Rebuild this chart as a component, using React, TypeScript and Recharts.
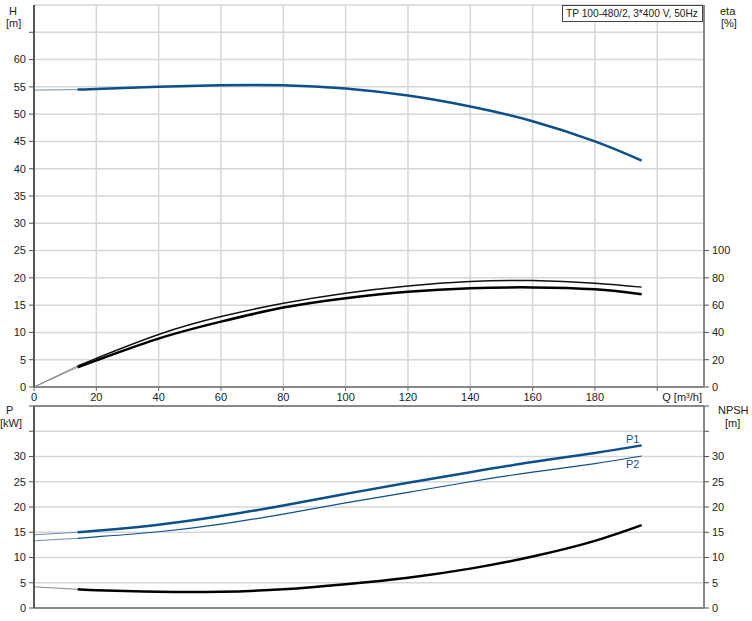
import React from "react";
import {
  ComposedChart,
  Line,
  XAxis,
  YAxis,
  CartesianGrid,
  ReferenceLine,
} from "recharts";

// flow points Q [m³/h]
const flow = [0, 14, 20, 40, 60, 80, 100, 120, 140, 160, 180, 195];
// head H [m]
const head = [54.4, 54.5, 54.6, 55.0, 55.3, 55.3, 54.7, 53.4, 51.4, 48.7, 45.0, 41.5];
// efficiency curves [%]
const etaUpper = [0, 15.5, 21.0, 38.5, 51.6, 61.4, 68.8, 74.1, 77.3, 78.0, 76.1, 73.2];
const etaLower = [0, 14.5, 19.5, 35.5, 47.9, 58.2, 65.1, 69.8, 72.4, 73.0, 71.6, 68.0];
// power [kW]
const powerP1 = [14.5, 15.0, 15.3, 16.5, 18.2, 20.3, 22.6, 24.8, 26.9, 28.9, 30.7, 32.2];
const powerP2 = [13.3, 13.8, 14.1, 15.1, 16.6, 18.6, 20.8, 22.9, 25.0, 26.9, 28.6, 30.1];
// NPSH [m]
const npsh = [4.2, 3.7, 3.5, 3.2, 3.2, 3.7, 4.7, 6.0, 7.8, 10.2, 13.3, 16.4];

const qTicks = [0, 20, 40, 60, 80, 100, 120, 140, 160, 180, 200];
const hTicks = [0, 5, 10, 15, 20, 25, 30, 35, 40, 45, 50, 55, 60, 65];
const etaTicks = [0, 20, 40, 60, 80, 100];
const pTicks = [0, 5, 10, 15, 20, 25, 30, 35, 40];

const thin = (arr: number[], i: number) => (i <= 1 ? arr[i] : null);
const thick = (arr: number[], i: number) => (i >= 1 ? arr[i] : null);

const rows = flow.map((q, i) => ({
  q,
  hThin: thin(head, i),
  h: thick(head, i),
  euThin: thin(etaUpper, i),
  eu: thick(etaUpper, i),
  elThin: thin(etaLower, i),
  el: thick(etaLower, i),
  p1Thin: thin(powerP1, i),
  p1: thick(powerP1, i),
  p2Thin: thin(powerP2, i),
  p2: thick(powerP2, i),
  nThin: thin(npsh, i),
  n: thick(npsh, i),
}));

const FONT = "'Liberation Sans', Arial, sans-serif";
const tickStyle = { fontSize: 11, fill: "#222", fontFamily: FONT };
const BLUE = "#0d4f8b";
const GRID = "#d6d6d6";

const QTick = (props: any) => {
  const { x, y, payload } = props;
  const last = payload.value === 200;
  return (
    <text
      x={last ? x + 5 : x}
      y={y}
      dy="0.71em"
      textAnchor={last ? "start" : "middle"}
      style={tickStyle}
      fill="#222"
    >
      {last ? "Q [m³/h]" : payload.value}
    </text>
  );
};

const endLabel = (text: string, dy: number) => (props: any) => {
  if (props.index !== flow.length - 1) return <g />;
  return (
    <text
      x={props.x - 9}
      y={props.y + dy}
      textAnchor="middle"
      dominantBaseline="central"
      fontSize={11}
      fontFamily={FONT}
      fill="#1d4f86"
    >
      {text}
    </text>
  );
};

const upTo = (max: number) => (v: number) => (v > max ? "" : String(v));

const abs = (left: number, top: number, extra?: React.CSSProperties): React.CSSProperties => ({
  position: "absolute",
  left,
  top,
  fontSize: 11,
  fontFamily: FONT,
  color: "#222",
  lineHeight: "12px",
  whiteSpace: "nowrap",
  ...extra,
});

export default function App() {
  return (
    <div style={{ position: "absolute", left: 0, top: 0, width: 752, height: 621, background: "#fff" }}>
      <div style={{ position: "absolute", left: 0, top: 0 }}>
        <ComposedChart width={752} height={404} data={rows} margin={{ top: 5, right: 0, bottom: 0, left: 0 }}>
          <CartesianGrid yAxisId="h" stroke={GRID} strokeWidth={1.5} />
          <XAxis
            dataKey="q"
            type="number"
            domain={[0, 215]}
            ticks={qTicks}
            height={17}
            tick={<QTick />}
            tickSize={4}
            tickMargin={2}
            axisLine={{ stroke: "#888", strokeWidth: 2 }}
            tickLine={{ stroke: "#666" }}
          />
          <YAxis
            yAxisId="h"
            domain={[0, 70]}
            ticks={hTicks}
            width={34}
            tickFormatter={upTo(60)}
            tick={tickStyle}
            tickSize={5}
            tickMargin={3}
            axisLine={{ stroke: "#555", strokeWidth: 2 }}
            tickLine={{ stroke: "#555" }}
          />
          <YAxis
            yAxisId="eta"
            orientation="right"
            domain={[0, 280]}
            ticks={etaTicks}
            width={48}
            tick={tickStyle}
            tickSize={5}
            tickMargin={3}
            axisLine={{ stroke: "#888", strokeWidth: 2 }}
            tickLine={{ stroke: "#555" }}
          />
          <Line yAxisId="h" dataKey="hThin" stroke="#6f8db3" strokeWidth={1} dot={false} activeDot={false} isAnimationActive={false} />
          <Line yAxisId="h" type="natural" dataKey="h" stroke={BLUE} strokeWidth={2.5} dot={false} activeDot={false} isAnimationActive={false} />
          <Line yAxisId="eta" dataKey="euThin" stroke="#888" strokeWidth={1} dot={false} activeDot={false} isAnimationActive={false} />
          <Line yAxisId="eta" dataKey="elThin" stroke="#888" strokeWidth={1} dot={false} activeDot={false} isAnimationActive={false} />
          <Line yAxisId="eta" type="natural" dataKey="eu" stroke="#111" strokeWidth={1.5} dot={false} activeDot={false} isAnimationActive={false} />
          <Line yAxisId="eta" type="natural" dataKey="el" stroke="#000" strokeWidth={2.5} dot={false} activeDot={false} isAnimationActive={false} />
        </ComposedChart>
      </div>

      <div style={{ position: "absolute", left: 0, top: 400 }}>
        <ComposedChart width={752} height={221} data={rows} margin={{ top: 6, right: 0, bottom: 0, left: 0 }}>
          <CartesianGrid yAxisId="p" stroke={GRID} strokeWidth={1.5} />
          <XAxis
            dataKey="q"
            type="number"
            domain={[0, 215]}
            ticks={qTicks}
            height={13}
            tick={false}
            tickLine={false}
            axisLine={{ stroke: "#888", strokeWidth: 2 }}
          />
          <YAxis
            yAxisId="p"
            domain={[0, 40]}
            ticks={pTicks}
            width={34}
            tickFormatter={upTo(30)}
            tick={tickStyle}
            tickSize={5}
            tickMargin={3}
            axisLine={{ stroke: "#555", strokeWidth: 2 }}
            tickLine={{ stroke: "#555" }}
          />
          <YAxis
            yAxisId="npsh"
            orientation="right"
            domain={[0, 40]}
            ticks={pTicks}
            width={48}
            tickFormatter={upTo(30)}
            tick={tickStyle}
            tickSize={5}
            tickMargin={3}
            axisLine={{ stroke: "#888", strokeWidth: 2 }}
            tickLine={{ stroke: "#555" }}
          />
          <ReferenceLine yAxisId="p" y={40} stroke="#888" strokeWidth={2} />
          <Line yAxisId="p" dataKey="p1Thin" stroke="#6f8db3" strokeWidth={1} dot={false} activeDot={false} isAnimationActive={false} />
          <Line yAxisId="p" dataKey="p2Thin" stroke="#6f8db3" strokeWidth={1} dot={false} activeDot={false} isAnimationActive={false} />
          <Line
            yAxisId="p"
            type="natural"
            dataKey="p1"
            stroke={BLUE}
            strokeWidth={2.5}
            dot={false}
            activeDot={false}
            isAnimationActive={false}
            label={endLabel("P1", -6)}
          />
          <Line
            yAxisId="p"
            type="natural"
            dataKey="p2"
            stroke={BLUE}
            strokeWidth={1.2}
            dot={false}
            activeDot={false}
            isAnimationActive={false}
            label={endLabel("P2", 8)}
          />
          <Line yAxisId="npsh" dataKey="nThin" stroke="#888" strokeWidth={1} dot={false} activeDot={false} isAnimationActive={false} />
          <Line yAxisId="npsh" type="natural" dataKey="n" stroke="#000" strokeWidth={2.5} dot={false} activeDot={false} isAnimationActive={false} />
        </ComposedChart>
      </div>

      <div style={abs(9, 5)}>H</div>
      <div style={abs(6, 17)}>[m]</div>
      <div style={abs(720, 5)}>eta</div>
      <div style={abs(721, 17)}>[%]</div>
      <div style={abs(6, 404)}>P</div>
      <div style={abs(0, 417)}>[kW]</div>
      <div style={abs(718, 404)}>NPSH</div>
      <div style={abs(725, 417)}>[m]</div>
      <div
        style={abs(562, 5, {
          width: 141,
          height: 17,
          border: "1px solid #444",
          background: "#fff",
          boxSizing: "border-box",
          paddingLeft: 3,
          fontSize: 10.2,
          lineHeight: "15px",
        })}
      >
        TP 100-480/2, 3*400 V, 50Hz
      </div>
    </div>
  );
}
